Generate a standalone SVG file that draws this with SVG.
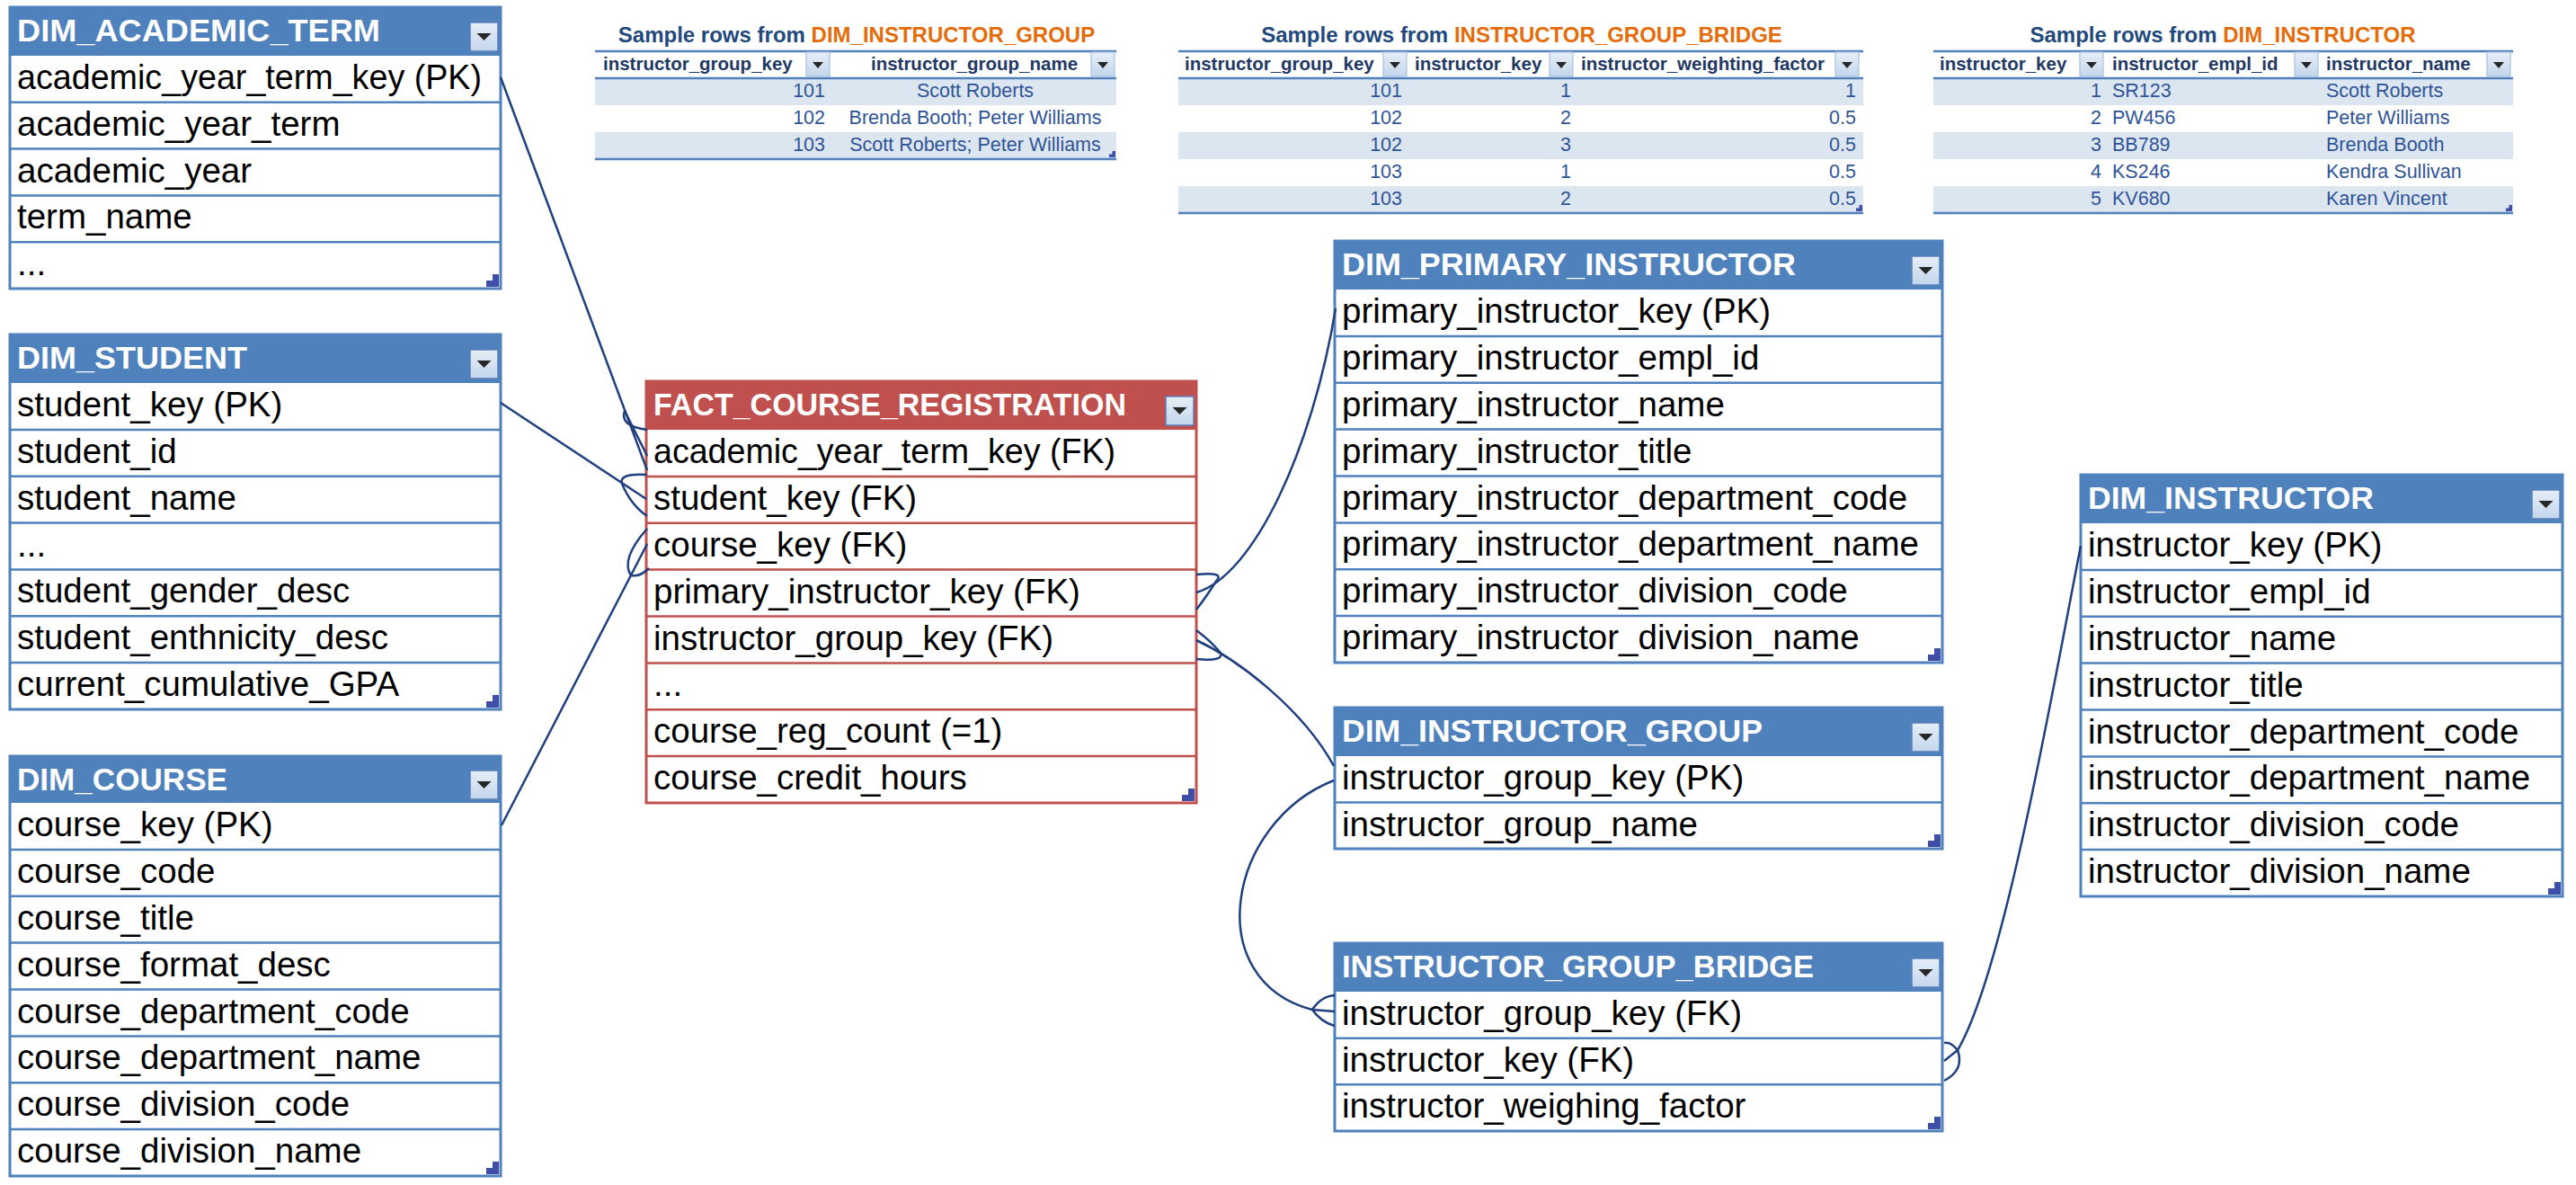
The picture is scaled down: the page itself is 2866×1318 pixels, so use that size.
<svg xmlns="http://www.w3.org/2000/svg" xmlns:xlink="http://www.w3.org/1999/xlink" width="2866" height="1318" viewBox="0 0 2866 1318">
<style>
.hdr{font-family:"Liberation Sans",Arial,sans-serif;font-weight:bold;font-size:35px;fill:#fff}
.fld{font-family:"Liberation Sans",Arial,sans-serif;font-size:38.5px;fill:#000}
.bd{fill:#fff;stroke:#4F81BD;stroke-width:3}
.ln{fill:none;stroke:#4F81BD;stroke-width:2.5}
.hb{fill:#4F81BD}
.fbd{fill:#fff;stroke:#C0504D;stroke-width:3}
.fln{fill:none;stroke:#C0504D;stroke-width:2.5}
.fhb{fill:#C0504D}
.conn path{fill:none;stroke:#203F7F;stroke-width:2.5}
.st{font-family:"Liberation Sans",Arial,sans-serif;font-weight:bold;font-size:24px}
.sb{fill:#1F497D}
.so{fill:#E46C0A}
.sh{font-family:"Liberation Sans",Arial,sans-serif;font-weight:bold;font-size:20.5px;fill:#1F3864}
.sd{font-family:"Liberation Sans",Arial,sans-serif;font-size:21.5px;fill:#2F5496}
.sr{text-anchor:end}
.sm{text-anchor:middle}
.stripe{fill:#DCE6F1}
.sl{stroke:#4F81BD;stroke-width:2.5}
</style>
<defs>
<linearGradient id="ddg" x1="0" y1="0" x2="0" y2="1"><stop offset="0" stop-color="#E6EEF7"/><stop offset="1" stop-color="#C3D6EC"/></linearGradient>
<g id="dd"><rect x="0" y="0" width="31" height="32" fill="url(#ddg)" stroke="#5A7FB8" stroke-width="1.5"/><polygon points="7.5,12 23.5,12 15.5,20" fill="#262626"/></g>
<g id="dds"><rect x="0" y="0" width="26" height="27" fill="url(#ddg)" stroke="#A9C1DE" stroke-width="1.2"/><polygon points="7,11 19,11 13,18" fill="#262626"/></g>
<path id="rh" d="M-2,-16V-2H-16V-9H-9V-16Z" fill="#3F4FA8"/>
<path id="rhs" d="M-1,-8V-1H-8V-4.5H-4.5V-8Z" fill="#3F4FA8"/>
</defs>
<rect x="0" y="0" width="2866" height="1318" fill="#fff"/>

<!-- Sample table 1 -->
<g id="sample_dim_instructor_group">
<text class="st" x="953" y="47" text-anchor="middle"><tspan class="sb">Sample rows from </tspan><tspan class="so">DIM_INSTRUCTOR_GROUP</tspan></text>
<rect class="stripe" x="662" y="87" width="580" height="30"/>
<rect class="stripe" x="662" y="147" width="580" height="30"/>
<line class="sl" x1="662" y1="57" x2="1242" y2="57"/>
<line class="sl" x1="662" y1="87" x2="1242" y2="87"/>
<line class="sl" x1="662" y1="177" x2="1242" y2="177"/>
<text class="sh" x="671" y="78">instructor_group_key</text>
<use href="#dds" x="897" y="58"/>
<text class="sh sm" x="1084" y="78">instructor_group_name</text>
<use href="#dds" x="1214" y="58"/>
<text class="sd sr" x="918" y="108">101</text>
<text class="sd sm" x="1085" y="108">Scott Roberts</text>
<text class="sd sr" x="918" y="138">102</text>
<text class="sd sm" x="1085" y="138">Brenda Booth; Peter Williams</text>
<text class="sd sr" x="918" y="168">103</text>
<text class="sd sm" x="1085" y="168">Scott Roberts; Peter Williams</text>
<use href="#rhs" x="1242" y="176"/>
</g>

<!-- Sample table 2 -->
<g id="sample_instructor_group_bridge">
<text class="st" x="1693" y="47" text-anchor="middle"><tspan class="sb">Sample rows from </tspan><tspan class="so">INSTRUCTOR_GROUP_BRIDGE</tspan></text>
<rect class="stripe" x="1311" y="87" width="762" height="30"/>
<rect class="stripe" x="1311" y="147" width="762" height="30"/>
<rect class="stripe" x="1311" y="207" width="762" height="30"/>
<line class="sl" x1="1311" y1="57" x2="2073" y2="57"/>
<line class="sl" x1="1311" y1="87" x2="2073" y2="87"/>
<line class="sl" x1="1311" y1="237" x2="2073" y2="237"/>
<text class="sh" x="1318" y="78">instructor_group_key</text>
<use href="#dds" x="1539" y="58"/>
<text class="sh" x="1574" y="78">instructor_key</text>
<use href="#dds" x="1724" y="58"/>
<text class="sh" x="1759" y="78">instructor_weighting_factor</text>
<use href="#dds" x="2042" y="58"/>
<text class="sd sr" x="1560" y="108">101</text><text class="sd sr" x="1748" y="108">1</text><text class="sd sr" x="2065" y="108">1</text>
<text class="sd sr" x="1560" y="138">102</text><text class="sd sr" x="1748" y="138">2</text><text class="sd sr" x="2065" y="138">0.5</text>
<text class="sd sr" x="1560" y="168">102</text><text class="sd sr" x="1748" y="168">3</text><text class="sd sr" x="2065" y="168">0.5</text>
<text class="sd sr" x="1560" y="198">103</text><text class="sd sr" x="1748" y="198">1</text><text class="sd sr" x="2065" y="198">0.5</text>
<text class="sd sr" x="1560" y="228">103</text><text class="sd sr" x="1748" y="228">2</text><text class="sd sr" x="2065" y="228">0.5</text>
<use href="#rhs" x="2073" y="236"/>
</g>

<!-- Sample table 3 -->
<g id="sample_dim_instructor">
<text class="st" x="2473" y="47" text-anchor="middle"><tspan class="sb">Sample rows from </tspan><tspan class="so">DIM_INSTRUCTOR</tspan></text>
<rect class="stripe" x="2151" y="87" width="645" height="30"/>
<rect class="stripe" x="2151" y="147" width="645" height="30"/>
<rect class="stripe" x="2151" y="207" width="645" height="30"/>
<line class="sl" x1="2151" y1="57" x2="2796" y2="57"/>
<line class="sl" x1="2151" y1="87" x2="2796" y2="87"/>
<line class="sl" x1="2151" y1="237" x2="2796" y2="237"/>
<text class="sh" x="2158" y="78">instructor_key</text>
<use href="#dds" x="2314" y="58"/>
<text class="sh" x="2350" y="78">instructor_empl_id</text>
<use href="#dds" x="2553" y="58"/>
<text class="sh" x="2588" y="78">instructor_name</text>
<use href="#dds" x="2767" y="58"/>
<text class="sd sr" x="2338" y="108">1</text><text class="sd" x="2350" y="108">SR123</text><text class="sd" x="2588" y="108">Scott Roberts</text>
<text class="sd sr" x="2338" y="138">2</text><text class="sd" x="2350" y="138">PW456</text><text class="sd" x="2588" y="138">Peter Williams</text>
<text class="sd sr" x="2338" y="168">3</text><text class="sd" x="2350" y="168">BB789</text><text class="sd" x="2588" y="168">Brenda Booth</text>
<text class="sd sr" x="2338" y="198">4</text><text class="sd" x="2350" y="198">KS246</text><text class="sd" x="2588" y="198">Kendra Sullivan</text>
<text class="sd sr" x="2338" y="228">5</text><text class="sd" x="2350" y="228">KV680</text><text class="sd" x="2588" y="228">Karen Vincent</text>
<use href="#rhs" x="2796" y="236"/>
</g>

<!-- DIM_ACADEMIC_TERM -->
<g id="dim_academic_term">
<rect class="bd" x="11" y="8" width="546" height="313"/>
<rect class="hb" x="11" y="8" width="546" height="54"/>
<path class="ln" d="M11 113.8H557M11 165.6H557M11 217.4H557M11 269.2H557"/>
<text class="hdr" x="19" y="46" textLength="404" lengthAdjust="spacingAndGlyphs">DIM_ACADEMIC_TERM</text>
<use href="#dd" x="523" y="25"/>
<text class="fld" x="19" y="99" textLength="517" lengthAdjust="spacingAndGlyphs">academic_year_term_key (PK)</text>
<text class="fld" x="19" y="150.8">academic_year_term</text>
<text class="fld" x="19" y="202.6">academic_year</text>
<text class="fld" x="19" y="254.4">term_name</text>
<text class="fld" x="19" y="306.2">...</text>
<use href="#rh" x="557" y="321"/>
</g>

<!-- DIM_STUDENT -->
<g id="dim_student">
<rect class="bd" x="11" y="372" width="546" height="417"/>
<rect class="hb" x="11" y="372" width="546" height="54"/>
<path class="ln" d="M11 477.9H557M11 529.7H557M11 581.6H557M11 633.4H557M11 685.3H557M11 737.1H557"/>
<text class="hdr" x="19" y="410" textLength="256" lengthAdjust="spacingAndGlyphs">DIM_STUDENT</text>
<use href="#dd" x="523" y="389"/>
<text class="fld" x="19" y="463">student_key (PK)</text>
<text class="fld" x="19" y="514.9">student_id</text>
<text class="fld" x="19" y="566.7">student_name</text>
<text class="fld" x="19" y="618.6">...</text>
<text class="fld" x="19" y="670.4">student_gender_desc</text>
<text class="fld" x="19" y="722.3">student_enthnicity_desc</text>
<text class="fld" x="19" y="774.1">current_cumulative_GPA</text>
<use href="#rh" x="557" y="789"/>
</g>

<!-- DIM_COURSE -->
<g id="dim_course">
<rect class="bd" x="11" y="841" width="546" height="467"/>
<rect class="hb" x="11" y="841" width="546" height="52"/>
<path class="ln" d="M11 944.9H557M11 996.8H557M11 1048.6H557M11 1100.5H557M11 1152.4H557M11 1204.3H557M11 1256.1H557"/>
<text class="hdr" x="19" y="879" textLength="234" lengthAdjust="spacingAndGlyphs">DIM_COURSE</text>
<use href="#dd" x="523" y="857"/>
<text class="fld" x="19" y="930">course_key (PK)</text>
<text class="fld" x="19" y="981.9">course_code</text>
<text class="fld" x="19" y="1033.8">course_title</text>
<text class="fld" x="19" y="1085.6">course_format_desc</text>
<text class="fld" x="19" y="1137.5">course_department_code</text>
<text class="fld" x="19" y="1189.4">course_department_name</text>
<text class="fld" x="19" y="1241.3">course_division_code</text>
<text class="fld" x="19" y="1293.1">course_division_name</text>
<use href="#rh" x="557" y="1308"/>
</g>

<!-- FACT_COURSE_REGISTRATION -->
<g id="fact_course_registration">
<rect class="fbd" x="719" y="424" width="612" height="469"/>
<rect class="fhb" x="719" y="424" width="612" height="54"/>
<path class="fln" d="M719 529.9H1331M719 581.8H1331M719 633.6H1331M719 685.5H1331M719 737.4H1331M719 789.3H1331M719 841.1H1331"/>
<text class="hdr" x="727" y="462" textLength="526" lengthAdjust="spacingAndGlyphs">FACT_COURSE_REGISTRATION</text>
<use href="#dd" x="1297" y="441"/>
<text class="fld" x="727" y="515" textLength="514" lengthAdjust="spacingAndGlyphs">academic_year_term_key (FK)</text>
<text class="fld" x="727" y="566.9">student_key (FK)</text>
<text class="fld" x="727" y="618.8">course_key (FK)</text>
<text class="fld" x="727" y="670.6">primary_instructor_key (FK)</text>
<text class="fld" x="727" y="722.5">instructor_group_key (FK)</text>
<text class="fld" x="727" y="774.4">...</text>
<text class="fld" x="727" y="826.3">course_reg_count (=1)</text>
<text class="fld" x="727" y="878.1">course_credit_hours</text>
<use href="#rh" x="1331" y="893"/>
</g>

<!-- DIM_PRIMARY_INSTRUCTOR -->
<g id="dim_primary_instructor">
<rect class="bd" x="1485" y="268" width="676" height="469"/>
<rect class="hb" x="1485" y="268" width="676" height="54"/>
<path class="ln" d="M1485 373.9H2161M1485 425.8H2161M1485 477.6H2161M1485 529.5H2161M1485 581.4H2161M1485 633.3H2161M1485 685.1H2161"/>
<text class="hdr" x="1493" y="306" textLength="505" lengthAdjust="spacingAndGlyphs">DIM_PRIMARY_INSTRUCTOR</text>
<use href="#dd" x="2127" y="285"/>
<text class="fld" x="1493" y="359">primary_instructor_key (PK)</text>
<text class="fld" x="1493" y="410.9">primary_instructor_empl_id</text>
<text class="fld" x="1493" y="462.8">primary_instructor_name</text>
<text class="fld" x="1493" y="514.6">primary_instructor_title</text>
<text class="fld" x="1493" y="566.5">primary_instructor_department_code</text>
<text class="fld" x="1493" y="618.4">primary_instructor_department_name</text>
<text class="fld" x="1493" y="670.3">primary_instructor_division_code</text>
<text class="fld" x="1493" y="722.1">primary_instructor_division_name</text>
<use href="#rh" x="2161" y="737"/>
</g>

<!-- DIM_INSTRUCTOR_GROUP -->
<g id="dim_instructor_group">
<rect class="bd" x="1485" y="787" width="676" height="157"/>
<rect class="hb" x="1485" y="787" width="676" height="54"/>
<path class="ln" d="M1485 892.5H2161"/>
<text class="hdr" x="1493" y="825" textLength="468" lengthAdjust="spacingAndGlyphs">DIM_INSTRUCTOR_GROUP</text>
<use href="#dd" x="2127" y="804"/>
<text class="fld" x="1493" y="878">instructor_group_key (PK)</text>
<text class="fld" x="1493" y="929.5">instructor_group_name</text>
<use href="#rh" x="2161" y="944"/>
</g>

<!-- INSTRUCTOR_GROUP_BRIDGE -->
<g id="instructor_group_bridge">
<rect class="bd" x="1485" y="1049" width="676" height="209"/>
<rect class="hb" x="1485" y="1049" width="676" height="54"/>
<path class="ln" d="M1485 1154.7H2161M1485 1206.3H2161"/>
<text class="hdr" x="1493" y="1087" textLength="525" lengthAdjust="spacingAndGlyphs">INSTRUCTOR_GROUP_BRIDGE</text>
<use href="#dd" x="2127" y="1066"/>
<text class="fld" x="1493" y="1140">instructor_group_key (FK)</text>
<text class="fld" x="1493" y="1191.7">instructor_key (FK)</text>
<text class="fld" x="1493" y="1243.3">instructor_weighing_factor</text>
<use href="#rh" x="2161" y="1258"/>
</g>

<!-- DIM_INSTRUCTOR -->
<g id="dim_instructor">
<rect class="bd" x="2315" y="528" width="536" height="469"/>
<rect class="hb" x="2315" y="528" width="536" height="54"/>
<path class="ln" d="M2315 633.9H2851M2315 685.8H2851M2315 737.6H2851M2315 789.5H2851M2315 841.4H2851M2315 893.3H2851M2315 945.1H2851"/>
<text class="hdr" x="2323" y="566" textLength="318" lengthAdjust="spacingAndGlyphs">DIM_INSTRUCTOR</text>
<use href="#dd" x="2817" y="545"/>
<text class="fld" x="2323" y="619">instructor_key (PK)</text>
<text class="fld" x="2323" y="670.9">instructor_empl_id</text>
<text class="fld" x="2323" y="722.8">instructor_name</text>
<text class="fld" x="2323" y="774.6">instructor_title</text>
<text class="fld" x="2323" y="826.5">instructor_department_code</text>
<text class="fld" x="2323" y="878.4">instructor_department_name</text>
<text class="fld" x="2323" y="930.3">instructor_division_code</text>
<text class="fld" x="2323" y="982.1">instructor_division_name</text>
<use href="#rh" x="2851" y="997"/>
</g>

<g id="connectors" class="conn">
<path d="M557,86 L720,523"/>
<path d="M695,457 Q689,474 720,478"/>
<path d="M695,457 L720,507"/>
<path d="M557,448 L719,555"/>
<path d="M692,538 Q688,526 720,528"/>
<path d="M692,538 Q702,562 720,574"/>
<path d="M558,918 L720,605"/>
<path d="M702,640 Q690,622 720,588"/>
<path d="M702,640 Q712,642 722,632"/>
<path d="M1331,659 C1395,640 1460,500 1486,343"/>
<path d="M1354,645 Q1362,636 1331,639"/>
<path d="M1354,645 Q1342,664 1331,678"/>
<path d="M1331,712 C1380,735 1450,790 1484,852"/>
<path d="M1358,726 Q1346,712 1331,701"/>
<path d="M1358,726 Q1362,736 1331,733"/>
<path d="M1484,868 C1365,915 1335,1090 1460,1123 L1485,1125"/>
<path d="M1460,1123 Q1470,1108 1485,1107"/>
<path d="M1460,1123 Q1470,1137 1485,1141"/>
<path d="M2178,1168 C2230,1080 2285,760 2315,607"/>
<path d="M2178,1168 Q2170,1158 2163,1160"/>
<path d="M2178,1168 L2163,1180"/>
<path d="M2178,1168 Q2186,1190 2163,1202"/>
</g>
</svg>
